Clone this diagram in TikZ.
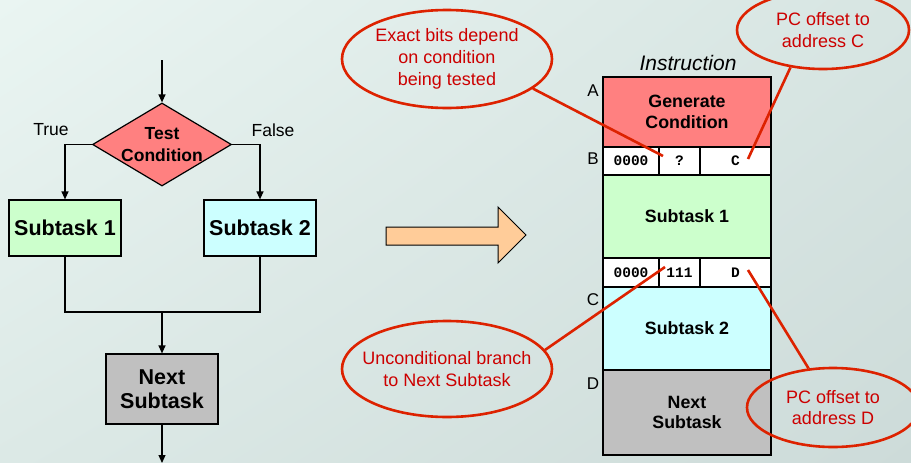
\documentclass[tikz,border=0pt]{standalone}
\usepackage{fontspec}
\setmainfont{Liberation Sans}
\setmonofont{Liberation Mono}
\usetikzlibrary{shapes.geometric,arrows.meta,shadings}

\definecolor{bgTL}{RGB}{234,245,242}
\definecolor{bgTR}{RGB}{215,229,226}
\definecolor{bgBL}{RGB}{220,233,230}
\definecolor{bgBR}{RGB}{205,219,217}
\definecolor{condred}{RGB}{255,128,128}
\definecolor{taskgreen}{RGB}{204,255,204}
\definecolor{taskcyan}{RGB}{204,255,255}
\definecolor{taskgray}{RGB}{192,192,192}
\definecolor{arrowtan}{RGB}{255,204,153}
\definecolor{noteline}{RGB}{221,34,0}
\definecolor{notetext}{RGB}{204,0,0}

\newcommand{\pxsize}[2]{\fontsize{#1}{#2}\selectfont}

\begin{document}
\begin{tikzpicture}[x=1pt,y=-1pt,
  flow/.style={line width=1.2pt, draw=black},
  tip/.style={-{Triangle[length=8pt,width=7pt]}},
  box/.style={draw, line width=1.2pt, inner sep=0pt, align=center,
    minimum width=112pt, font={\bfseries\pxsize{21.5}{24.5}}},
  col/.style={draw, line width=1.2pt, inner sep=0pt, align=center,
    minimum width=168pt, font={\bfseries\pxsize{17.8}{20.5}}},
  cell/.style={draw, fill=white, line width=1.2pt, inner sep=0pt,
    minimum height=28pt, font={\ttfamily\bfseries\pxsize{14.5}{16}}},
  tag/.style={inner sep=0pt, font={\pxsize{17}{19}}},
  note/.style={ellipse, draw=noteline, line width=2.6pt, text=notetext,
    align=center, inner xsep=-15pt, inner ysep=0pt,
    font={\pxsize{18}{21.7}}},
  pointer/.style={draw=noteline, line width=2.6pt}
]
% page background
\useasboundingbox (0,0) rectangle (911,463);
\shade[upper left=bgTL, upper right=bgTR, lower left=bgBL, lower right=bgBR]
  (0,0) rectangle (911,463);

% ---------- flowchart ----------
\coordinate (entry) at (162,60);
\node[diamond, draw, line width=1.2pt, fill=condred, inner sep=0pt,
  minimum width=139pt, minimum height=83pt,
  label={[align=center, font={\bfseries\pxsize{17.5}{22}}]center:Test\\Condition}]
  (test) at (162,144.5) {};
\node[box, fill=taskgreen, minimum height=56pt] (sub1) at (65,228) {Subtask 1};
\node[box, fill=taskcyan, minimum height=56pt] (sub2) at (260,228) {Subtask 2};
\node[box, fill=taskgray, minimum height=70pt] (next) at (162,389) {Next\\Subtask};
\coordinate (join) at (162,312);
\coordinate (exit) at (162,463);

\node[tag, font={\pxsize{17.5}{19}}] (truelbl) at (51,130) {True};
\node[tag, font={\pxsize{17.5}{19}}] (falselbl) at (273,130) {False};

\draw[flow, tip] (entry) -- (test.north);
\draw[flow, tip] (test.west) -| (sub1.north);
\draw[flow, tip] (test.east) -| (sub2.north);
\draw[flow] (sub1.south) |- (join) -| (sub2.south);
\draw[flow, tip] (join) -- (next.north);
\draw[flow, tip] (next.south) -- (exit);

% ---------- transformation arrow ----------
\draw[line width=1pt, fill=arrowtan]
  (386,227) -- (498,227) -- (498,207) -- (526,235) -- (498,263)
  -- (498,245) -- (386,245) -- cycle;

% ---------- instruction layout ----------
\node[font={\itshape\pxsize{21}{23}}] (instr) at (688,63) {Instruction};
\node[col, fill=condred, minimum height=70pt] (gen) at (687,112) {Generate\\Condition};
\node[cell, minimum width=56pt] (bop) at (631,161) {0000};
\node[cell, minimum width=41pt] (bcc) at (679.5,161) {?};
\node[cell, minimum width=71pt] (boff) at (735.5,161) {C};
\node[col, fill=taskgreen, minimum height=83pt] (isub1) at (687,216.5) {Subtask 1};
\node[cell, minimum width=56pt, minimum height=29pt] (dop) at (631,272.5) {0000};
\node[cell, minimum width=41pt, minimum height=29pt] (dcc) at (679.5,272.5) {111};
\node[cell, minimum width=71pt, minimum height=29pt] (doff) at (735.5,272.5) {D};
\node[col, fill=taskcyan, minimum height=83pt] (isub2) at (687,328.5) {Subtask 2};
\node[col, fill=taskgray, minimum height=85pt] (inext) at (687,412.5) {Next\\Subtask};

\node[tag] (addrA) at (593,91) {A};
\node[tag] (addrB) at (593,159) {B};
\node[tag] (addrC) at (593,300) {C};
\node[tag] (addrD) at (593,384) {D};

% ---------- callouts ----------
\coordinate (ccbits) at (663,156);
\coordinate (offC) at (748,159);
\coordinate (uncond) at (665,267);
\coordinate (offD) at (748,270);

\node[note, minimum width=210pt, minimum height=98pt] (bitsnote) at (447,59)
  {Exact bits depend\\on condition\\being tested};
\node[note, minimum width=172pt, minimum height=78pt] (cnote) at (823,30)
  {PC offset to\\address C};
\node[note, minimum width=172pt, minimum height=79pt] (dnote) at (833,407.5)
  {PC offset to\\address D};
\node[note, minimum width=210pt, minimum height=96pt] (unote) at (447,369)
  {Unconditional branch\\to Next Subtask};

\draw[pointer] (bitsnote.-19) -- (ccbits);
\draw[pointer] (cnote.-131) -- (offC);
\draw[pointer] (dnote.122) -- (offD);
\draw[pointer] (unote.11) -- (uncond);
\end{tikzpicture}
\end{document}
